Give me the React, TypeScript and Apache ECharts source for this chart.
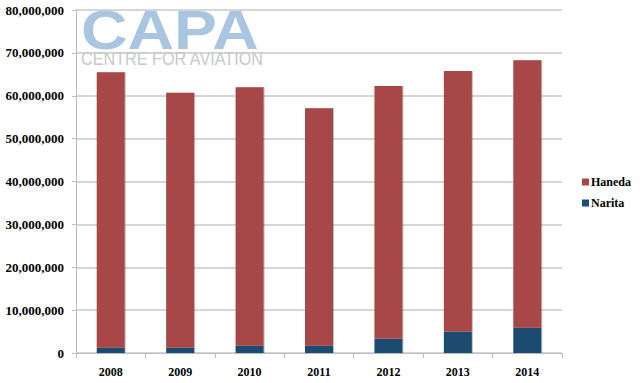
import React, { useEffect, useRef } from "react";
import * as echarts from "echarts";

const years = ["2008", "2009", "2010", "2011", "2012", "2013", "2014"];
const narita = [1240000, 1200000, 1700000, 1700000, 3300000, 5000000, 5900000];
const haneda = [64260000, 59500000, 60300000, 55400000, 59000000, 60800000, 62400000];
const yTicks = { min: 0, max: 80000000, interval: 10000000 };

const fmt = (v: number) => String(v).replace(/\B(?=(\d{3})+(?!\d))/g, ",");

export default function App() {
  const ref = useRef<HTMLDivElement>(null);
  useEffect(() => {
    const chart = echarts.init(ref.current!, undefined, { renderer: "svg" });
    const serif = "Liberation Serif, serif";
    chart.setOption({
      animation: false,
      backgroundColor: "#ffffff",
      textStyle: { fontFamily: serif },
      grid: { left: 76, right: 81, top: 10, bottom: 30, containLabel: false },
      legend: {
        orient: "vertical",
        left: 577,
        top: 171,
        itemWidth: 7,
        itemHeight: 7,
        itemGap: 9,
        icon: "rect",
        data: ["Haneda", "Narita"],
        textStyle: { fontFamily: serif, fontWeight: "bold", fontSize: 12, color: "#000", padding: [0, 0, 0, -3] },
      },
      graphic: [
        {
          type: "text",
          x: 81,
          y: 30,
          scaleX: 1.15,
          z: 0,
          style: {
            text: "CAPA",
            font: "900 56px Liberation Sans, sans-serif",
            fill: "#A9C5DF",
            textVerticalAlign: "middle",
          },
        },
        {
          type: "text",
          x: 81,
          y: 59,
          scaleX: 0.9,
          z: 0,
          style: {
            text: "CENTRE FOR AVIATION",
            font: "normal 18px Liberation Sans, sans-serif",
            fill: "#C9C9C9",
            textVerticalAlign: "middle",
          },
        },
      ],
      xAxis: {
        type: "category",
        data: years,
        axisLine: { lineStyle: { color: "#BDBDBD", width: 1 } },
        axisTick: { show: true, length: 5, lineStyle: { color: "#BDBDBD" } },
        axisLabel: { fontFamily: serif, fontWeight: "bold", fontSize: 12, color: "#000", margin: 13 },
      },
      yAxis: {
        type: "value",
        min: yTicks.min,
        max: yTicks.max,
        interval: yTicks.interval,
        axisLine: { show: true, lineStyle: { color: "#BDBDBD", width: 1 } },
        axisTick: { show: true, length: 4, lineStyle: { color: "#BDBDBD" } },
        splitLine: { lineStyle: { color: "#C8C8C8", width: 1.5 } },
        axisLabel: {
          fontFamily: serif,
          fontWeight: "bold",
          fontSize: 13,
          color: "#000",
          margin: 12,
          formatter: (v: number) => fmt(v),
        },
      },
      series: [
        {
          name: "Narita",
          type: "bar",
          stack: "total",
          data: narita,
          barWidth: 28,
          itemStyle: { color: "#1E4B71", shadowColor: "rgba(0,0,0,0.25)", shadowOffsetX: 1, shadowBlur: 1 },
        },
        {
          name: "Haneda",
          type: "bar",
          stack: "total",
          data: haneda,
          barWidth: 28,
          itemStyle: { color: "#A84747", shadowColor: "rgba(0,0,0,0.25)", shadowOffsetX: 1, shadowBlur: 1 },
        },
      ],
    });
    return () => chart.dispose();
  }, []);
  return (
    <div
      ref={ref}
      style={{ position: "absolute", left: 0, top: 0, width: 643, height: 383 }}
    />
  );
}
